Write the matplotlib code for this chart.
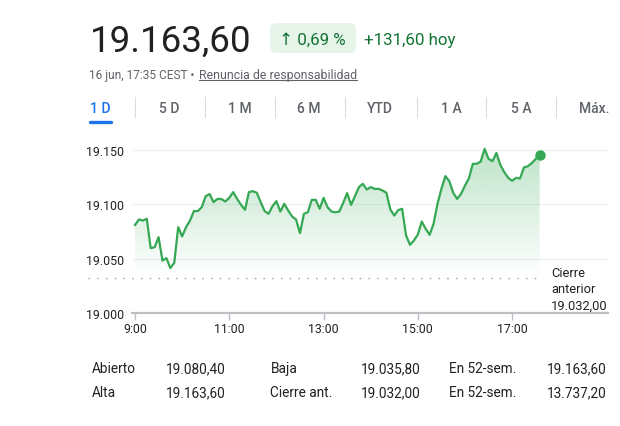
"""Intraday index chart (1 D view) in the style of a finance quote card."""

import numpy as np
import matplotlib

matplotlib.use("Agg")
import matplotlib.pyplot as plt
from matplotlib.lines import Line2D
from matplotlib.patches import FancyBboxPatch
from matplotlib.colors import to_rgb

plt.rcParams["font.family"] = ["Roboto", "DejaVu Sans"]

# ---- data -----------------------------------------------------------------
price_text = "19.163,60"
change_pct_text = "\u2191 0,69 %"
change_abs_text = "+131,60 hoy"
stamp_text = "16 jun, 17:35 CEST \u2022"
disclaimer_text = "Renuncia de responsabilidad"

tabs = ["1 D", "5 D", "1 M", "6 M", "YTD", "1 A", "5 A", "Máx."]

# 5-minute closes from 9:00 to 17:35
values = [
    19081.0, 19086.1, 19085.1, 19086.7, 19059.8, 19060.7, 19069.9, 19048.4, 19050.6, 19041.5,
    19046.3, 19079.1, 19070.5, 19079.1, 19085.1, 19093.8, 19093.8, 19097.4, 19107.5, 19109.4,
    19102.0, 19105.0, 19104.8, 19102.6, 19106.0, 19111.2, 19105.0, 19099.5, 19095.0, 19111.2,
    19112.1, 19110.6, 19102.0, 19093.8, 19091.3, 19098.3, 19102.9, 19093.4, 19100.5, 19094.3,
    19088.8, 19086.1, 19073.6, 19091.3, 19092.8, 19104.1, 19104.1, 19095.9, 19106.0, 19097.4,
    19093.4, 19092.7, 19093.4, 19101.4, 19110.3, 19099.5, 19107.5, 19115.8, 19118.8, 19113.6,
    19115.8, 19114.2, 19114.2, 19112.7, 19110.6, 19095.2, 19089.7, 19094.7, 19095.9, 19071.4,
    19062.8, 19066.8, 19072.3, 19084.2, 19077.5, 19072.0, 19082.1, 19100.5, 19114.2, 19125.9,
    19121.3, 19110.6, 19105.0, 19109.6, 19117.2, 19124.0, 19137.2, 19137.2, 19139.3, 19150.9,
    19141.7, 19139.6, 19147.2, 19136.2, 19129.5, 19124.3, 19121.6, 19124.3, 19123.7, 19133.8,
    19135.0, 19137.8, 19141.7, 19145.7,
]
minutes = np.arange(len(values)) * 5  # minutes after 9:00

prev_close = 19032.0
prev_close_text = "Cierre\nanterior\n19.032,00"

x_ticks = [0, 120, 240, 360, 480]
x_tick_labels = ["9:00", "11:00", "13:00", "15:00", "17:00"]
y_ticks = [19000, 19050, 19100, 19150]
y_tick_labels = ["19.000", "19.050", "19.100", "19.150"]

stats_rows = [
    ["Abierto", "19.080,40", "Baja", "19.035,80", "En 52-sem.", "19.163,60"],
    ["Alta", "19.163,60", "Cierre ant.", "19.032,00", "En 52-sem.", "13.737,20"],
]

# ---- style ----------------------------------------------------------------
W, H = 620, 427
GREEN = "#34a853"
DARK_GREEN = "#137333"
TEXT = "#202124"
GREY = "#5f6368"
AXIS_GREY = "#bdc1c6"
BLUE = "#1a73e8"

fig = plt.figure(figsize=(W / 100, H / 100), dpi=100)


def fx(x):
    return x / W


def fy(y):
    return 1 - y / H


# ---- header ---------------------------------------------------------------
fig.text(fx(90), fy(52), price_text, fontsize=26.5, color=TEXT, va="baseline")

pill = FancyBboxPatch((fx(270), fy(54)), fx(86), 30 / H,
                      boxstyle="round,pad=0,rounding_size=0.012",
                      transform=fig.transFigure, facecolor="#e6f4ea", edgecolor="none")
fig.add_artist(pill)
fig.text(fx(279), fy(44.5), change_pct_text, fontsize=12.2, color=DARK_GREEN, va="baseline")
fig.text(fx(364), fy(44.5), change_abs_text, fontsize=12.2, color=DARK_GREEN, va="baseline")

renderer = fig.canvas.get_renderer()
stamp = fig.text(fx(89), fy(78.5), stamp_text, fontsize=8.6, color=GREY, va="baseline")
sb = stamp.get_window_extent(renderer)
disc = fig.text((sb.x1 + 4) / W, fy(78.5), disclaimer_text, fontsize=8.9,
                color=GREY, va="baseline")
bb = disc.get_window_extent(renderer)
fig.add_artist(Line2D([bb.x0 / W, bb.x1 / W], [fy(80.5), fy(80.5)],
                      transform=fig.transFigure, color=GREY, lw=0.8))

# ---- tabs -----------------------------------------------------------------
tab_centers = [100, 169, 239.5, 309, 380, 451, 521, 594]
separators = [135, 205, 275, 344.5, 417, 486, 556]
for i, (label, cx) in enumerate(zip(tabs, tab_centers)):
    fig.text(fx(cx), fy(109.5), label, fontsize=10, fontweight="medium",
             color=BLUE if i == 0 else GREY, ha="center", va="center")
for sx in separators:
    fig.add_artist(Line2D([fx(sx), fx(sx)], [fy(97.5), fy(118)],
                          transform=fig.transFigure, color="#dadce0", lw=0.8))
fig.add_artist(Line2D([fx(89.5), fx(110.5)], [fy(123), fy(123)],
                      transform=fig.transFigure, color=BLUE, lw=2.4,
                      solid_capstyle="round"))

# ---- chart ----------------------------------------------------------------
ax = fig.add_axes([fx(132), fy(314.3), fx(608) - fx(132), (314.3 - 134.5) / H])
x_lo, x_hi = -3.8, 602
y_lo, y_hi = 19000, 19165

for s in ["top", "right", "left"]:
    ax.spines[s].set_visible(False)
ax.spines["bottom"].set_color(AXIS_GREY)
ax.spines["bottom"].set_linewidth(1.6)

for yv in y_ticks[1:]:
    ax.axhline(yv, color="#eef0f1", lw=0.9, zorder=0)

# gradient fill under the line
poly = ax.fill_between(minutes, values, prev_close, facecolor="none", edgecolor="none")
rgb = np.array(to_rgb(GREEN))
n = 256
alpha = np.linspace(0.0, 0.32, n)
grad = np.zeros((n, 1, 4))
grad[:, 0, :3] = rgb
grad[:, 0, 3] = alpha
img = ax.imshow(grad, extent=[minutes[0], minutes[-1], prev_close, 19152],
                origin="lower", aspect="auto", zorder=1, interpolation="bilinear")
img.set_clip_path(poly.get_paths()[0], transform=ax.transData)

ax.plot(minutes, values, color=GREEN, lw=1.6, zorder=3, solid_joinstyle="round")
ax.plot(minutes[-1], values[-1], "o", color=GREEN, ms=6.5, zorder=4)

# previous close dotted line (runs into the label gutter)
ax.plot([-60, minutes[-1]], [prev_close, prev_close], color="#9aa0a6", lw=1.0,
        dashes=(1.1, 5.2), clip_on=False, zorder=2)
ax.text(529.5, 19022.5, prev_close_text, fontsize=9.3, color=TEXT, ha="left",
        va="center", linespacing=1.35)

ax.set_xlim(x_lo, x_hi)
ax.set_ylim(y_lo, y_hi)
ax.set_xticks(x_ticks)
ax.set_xticklabels(x_tick_labels)
ax.set_yticks(y_ticks)
ax.set_yticklabels(y_tick_labels)
ax.tick_params(axis="x", length=5, width=1, color=AXIS_GREY, pad=1.5,
               labelsize=8.9, labelcolor=TEXT)
ax.tick_params(axis="y", length=0, pad=6, labelsize=8.9, labelcolor=TEXT)

# ---- stats table ----------------------------------------------------------
col_x = [92, 166, 270.5, 361, 449, 547]
row_y = [369, 393.5]
for row, yy in zip(stats_rows, row_y):
    for txt, xx in zip(row, col_x):
        fig.text(fx(xx), fy(yy), txt, fontsize=9.8, color=TEXT, va="center")

fig.savefig("out.png", dpi=100)
